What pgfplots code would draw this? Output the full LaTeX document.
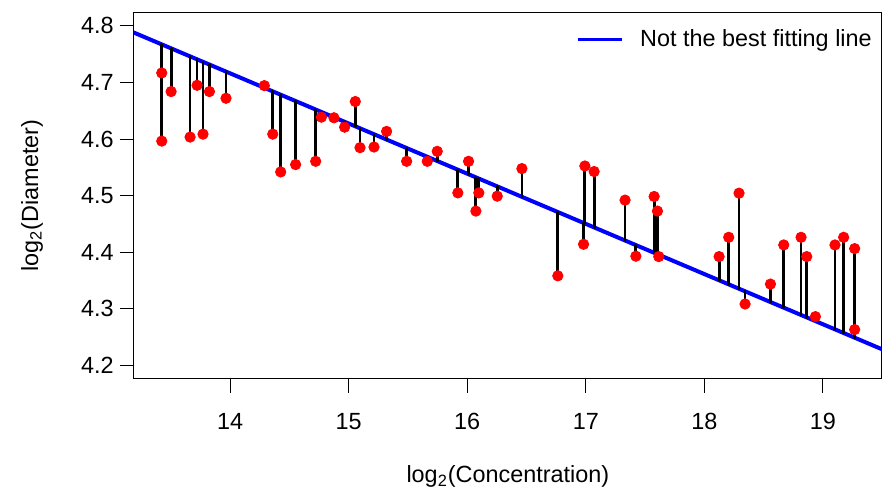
\documentclass[border=0pt]{standalone}
\usepackage{fontspec}
\setmainfont{Liberation Sans}
\usepackage{pgfplots}
\usepackage{pgfplotstable}
\pgfplotsset{compat=1.18}

% x = log2 concentration, y = log2 diameter, l = value of the line at x
\pgfplotstableread{
x y l
13.424 4.7168 4.7673
13.424 4.5964 4.7673
13.503 4.6839 4.7603
13.663 4.6035 4.7461
13.722 4.6950 4.7409
13.772 4.6087 4.7364
13.826 4.6839 4.7316
13.966 4.6721 4.7192
14.289 4.6944 4.6906
14.360 4.6087 4.6843
14.427 4.5419 4.6783
14.553 4.5549 4.6672
14.722 4.5607 4.6522
14.770 4.6387 4.6479
14.876 4.6376 4.6385
14.966 4.6210 4.6305
15.056 4.6663 4.6225
15.096 4.5848 4.6190
15.214 4.5859 4.6085
15.320 4.6135 4.5991
15.489 4.5607 4.5841
15.663 4.5607 4.5687
15.747 4.5783 4.5612
15.921 4.5049 4.5458
16.011 4.5607 4.5378
16.073 4.4727 4.5323
16.098 4.5049 4.5301
16.253 4.4991 4.5164
16.461 4.5478 4.4979
16.764 4.3583 4.4710
16.981 4.4141 4.4518
16.992 4.5524 4.4508
17.070 4.5426 4.4439
17.331 4.4921 4.4207
17.422 4.3930 4.4127
17.576 4.4985 4.3990
17.604 4.4727 4.3965
17.615 4.3923 4.3956
18.124 4.3923 4.3504
18.205 4.4264 4.3432
18.292 4.5044 4.3355
18.343 4.3085 4.3310
18.557 4.3437 4.3120
18.669 4.4129 4.3021
18.815 4.4264 4.2891
18.863 4.3923 4.2849
18.936 4.2862 4.2784
19.101 4.4129 4.2637
19.174 4.4264 4.2573
19.267 4.4064 4.2490
19.267 4.2633 4.2490
}\diam

\begin{document}
\fontsize{11.7}{14}\selectfont
\begin{tikzpicture}
\begin{axis}[
  name=ax,
  scale only axis,
  width=373.85pt,height=183.35pt,
  xmin=13.19,xmax=19.495,ymin=4.176,ymax=4.824,
  xtick={14,15,16,17,18,19},
  ytick={4.2,4.3,4.4,4.5,4.6,4.7,4.8},
  yticklabel style={/pgf/number format/fixed,/pgf/number format/precision=1,/pgf/number format/fixed zerofill},
  /pgf/number format/assume math mode=true,
  tick pos=left,tick align=outside,
  major tick length=7pt,
  every tick/.style={black,line width=0.5pt},
  axis line style={line width=0.5pt},
  xticklabel style={anchor=north,inner sep=0pt,yshift=-10pt},
  yticklabel style={anchor=east,inner sep=0pt,xshift=-3pt},
  xlabel={log\textsubscript{2}(Concentration)},
  ylabel={log\textsubscript{2}(Diameter)},
  xlabel style={at={(axis description cs:0.5,0)},anchor=base,yshift=-51.75pt},
  ylabel style={at={(axis description cs:-0.1364,0.5)},anchor=center},
  legend style={at={(axis description cs:1,0.9245)},anchor=east,xshift=-5pt,
    draw=none,fill=none,inner sep=0pt,outer sep=0pt,nodes={inner sep=0pt},
    /tikz/every odd column/.append style={column sep=8.5pt}},
  legend image code/.code={\draw[#1,line width=1.5pt] (0pt,0pt) -- (22pt,0pt);},
]
\addplot[blue,line width=2pt] coordinates {(13.0,4.8049) (19.7,4.2106)};
\addlegendentry{Not the best fitting line}
\addplot[only marks,mark=*,mark size=2.6pt,red,forget plot] table[x=x,y=y] {\diam};
\addplot[black,line width=1.4pt,line cap=round,forget plot,
  quiver={u=0,v=\thisrow{l}-\thisrow{y}}] table[x=x,y=y] {\diam};
\end{axis}
\pgfresetboundingbox
\path[use as bounding box] ([shift={(-67pt,-54pt)}]ax.south west) rectangle ([shift={(1.65pt,6.15pt)}]ax.north east);
\end{tikzpicture}
\end{document}
